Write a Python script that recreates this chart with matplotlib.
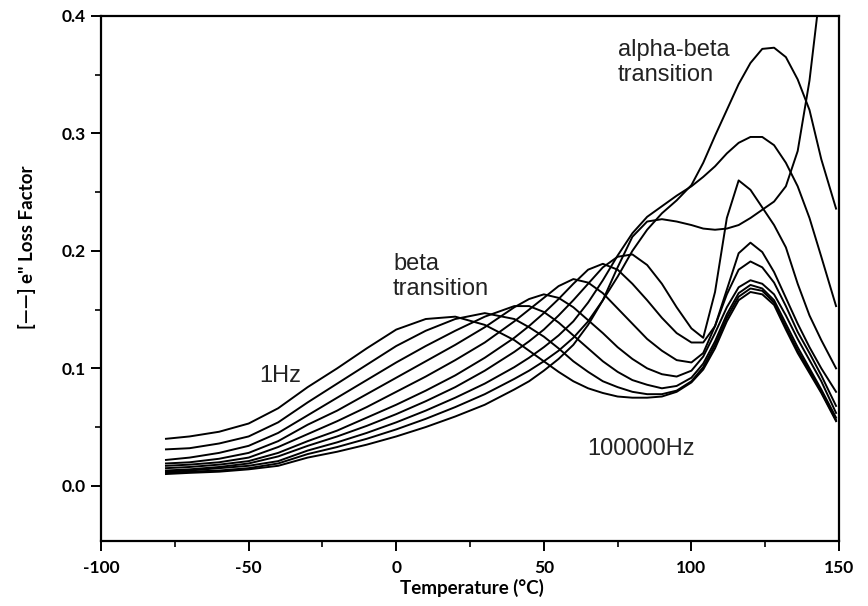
import matplotlib
matplotlib.use("Agg")
import matplotlib.pyplot as plt
from matplotlib.ticker import MultipleLocator, FormatStrFormatter

plt.rcParams["axes.unicode_minus"] = False

# temperature grid (deg C) shared by all curves
temps = [-78, -70, -60, -50, -40, -30, -20, -10, 0, 10, 20, 30, 40, 45, 50, 55, 60, 65, 70,
         75, 80, 85, 90, 95, 100, 104, 108, 112, 116, 120, 124, 128, 132, 136, 140, 144, 149]

# loss factor e", lowest frequency (1Hz) first
curve1 = [0.040, 0.042, 0.046, 0.053, 0.066, 0.084, 0.100, 0.117, 0.133, 0.142, 0.144, 0.137,
          0.124, 0.115, 0.106, 0.097, 0.089, 0.083, 0.079, 0.076, 0.075, 0.075, 0.076, 0.080,
          0.088, 0.099, 0.117, 0.140, 0.158, 0.165, 0.163, 0.154, 0.133, 0.113, 0.096, 0.079,
          0.055]
curve2 = [0.031, 0.032, 0.036, 0.042, 0.054, 0.071, 0.087, 0.103, 0.119, 0.132, 0.142, 0.147,
          0.142, 0.135, 0.127, 0.117, 0.106, 0.097, 0.089, 0.084, 0.080, 0.078, 0.078, 0.081,
          0.089, 0.101, 0.120, 0.143, 0.161, 0.168, 0.166, 0.156, 0.135, 0.115, 0.098, 0.080,
          0.056]
curve3 = [0.022, 0.024, 0.028, 0.034, 0.045, 0.060, 0.075, 0.090, 0.105, 0.119, 0.132, 0.144,
          0.153, 0.153, 0.148, 0.139, 0.128, 0.117, 0.106, 0.097, 0.090, 0.086, 0.083, 0.085,
          0.092, 0.104, 0.123, 0.146, 0.164, 0.171, 0.168, 0.158, 0.138, 0.118, 0.100, 0.082,
          0.058]
curve4 = [0.019, 0.020, 0.023, 0.028, 0.038, 0.052, 0.064, 0.078, 0.092, 0.106, 0.120, 0.135,
          0.152, 0.159, 0.163, 0.160, 0.152, 0.141, 0.130, 0.118, 0.108, 0.100, 0.095, 0.093,
          0.098, 0.110, 0.130, 0.152, 0.169, 0.175, 0.172, 0.163, 0.145, 0.125, 0.107, 0.089,
          0.062]
curve5 = [0.017, 0.018, 0.020, 0.024, 0.033, 0.044, 0.055, 0.067, 0.080, 0.093, 0.107, 0.122,
          0.140, 0.150, 0.160, 0.170, 0.176, 0.173, 0.164, 0.151, 0.138, 0.125, 0.115, 0.107,
          0.105, 0.113, 0.136, 0.163, 0.184, 0.191, 0.186, 0.173, 0.153, 0.131, 0.113, 0.094,
          0.068]
curve6 = [0.015, 0.016, 0.018, 0.021, 0.028, 0.038, 0.047, 0.058, 0.069, 0.081, 0.094, 0.109,
          0.126, 0.136, 0.147, 0.159, 0.172, 0.184, 0.189, 0.184, 0.172, 0.158, 0.143, 0.130,
          0.122, 0.122, 0.136, 0.167, 0.198, 0.207, 0.199, 0.182, 0.160, 0.138, 0.118, 0.100,
          0.080]
curve7 = [0.013, 0.014, 0.016, 0.019, 0.025, 0.034, 0.042, 0.051, 0.061, 0.072, 0.084, 0.098,
          0.114, 0.123, 0.133, 0.145, 0.158, 0.172, 0.186, 0.195, 0.197, 0.188, 0.172, 0.152,
          0.134, 0.126, 0.165, 0.228, 0.260, 0.252, 0.237, 0.222, 0.203, 0.172, 0.145, 0.124,
          0.100]
curve8 = [0.012, 0.013, 0.015, 0.017, 0.021, 0.030, 0.037, 0.045, 0.054, 0.064, 0.075, 0.087,
          0.101, 0.109, 0.118, 0.128, 0.140, 0.156, 0.175, 0.196, 0.215, 0.229, 0.238, 0.247,
          0.255, 0.263, 0.272, 0.283, 0.292, 0.297, 0.297, 0.290, 0.275, 0.255, 0.228, 0.195,
          0.153]
curve9 = [0.011, 0.012, 0.013, 0.015, 0.019, 0.027, 0.033, 0.040, 0.048, 0.057, 0.067, 0.078,
          0.091, 0.098, 0.106, 0.115, 0.126, 0.140, 0.158, 0.178, 0.200, 0.218, 0.232, 0.243,
          0.256, 0.275, 0.298, 0.320, 0.342, 0.360, 0.372, 0.373, 0.365, 0.346, 0.320, 0.278,
          0.236]
curve10 = [0.010, 0.011, 0.012, 0.014, 0.017, 0.024, 0.029, 0.035, 0.042, 0.050, 0.059, 0.069,
           0.082, 0.089, 0.098, 0.108, 0.120, 0.137, 0.158, 0.186, 0.212, 0.225, 0.227, 0.225,
           0.222, 0.219, 0.218, 0.219, 0.222, 0.228, 0.235, 0.242, 0.255, 0.285, 0.345, 0.430,
           0.550]

curves = [curve1, curve2, curve3, curve4, curve5, curve6, curve7, curve8, curve9, curve10]

fig = plt.figure(figsize=(8.68, 6.06), dpi=100)
ax = fig.add_axes([0.1164, 0.1073, 0.8502, 0.8663])

for c in curves:
    ax.plot(temps, c, color="black", lw=1.4, solid_joinstyle="round")

ax.set_xlim(-100, 150)
ax.set_ylim(-0.047, 0.4)

ax.xaxis.set_major_locator(MultipleLocator(50))
ax.xaxis.set_minor_locator(MultipleLocator(25))
ax.yaxis.set_major_locator(MultipleLocator(0.1))
ax.yaxis.set_minor_locator(MultipleLocator(0.05))
ax.yaxis.set_major_formatter(FormatStrFormatter("%.1f"))

ax.tick_params(which="major", direction="out", length=7, width=1.4, pad=4)
ax.tick_params(which="minor", direction="out", length=4, width=1.2)
ax.tick_params(axis="x", pad=7)
for lbl in ax.get_xticklabels() + ax.get_yticklabels():
    lbl.set_fontfamily("Lato")
    lbl.set_fontweight("bold")
    lbl.set_fontsize(12.5)

for s in ax.spines.values():
    s.set_linewidth(1.6)

labelfont = dict(family="Lato", weight="bold", size=13.5)
ax.set_xlabel("Temperature (\u00b0C)", fontdict=labelfont)
ax.set_ylabel('[\u2014\u2014] e" Loss Factor', fontdict=labelfont)
ax.xaxis.set_label_coords(0.503, -0.072)
ax.yaxis.set_label_coords(-0.088, 0.56)

ann = dict(family="Liberation Sans", size=17, color="#222222")
ax.text(75.1, 0.345, "alpha-beta\ntransition", va="baseline", ha="left",
        linespacing=1.15, **ann)
ax.text(-1.1, 0.1625, "beta\ntransition", va="baseline", ha="left",
        linespacing=1.15, **ann)
ax.text(-46.5, 0.088, "1Hz", va="baseline", ha="left", **ann)
ax.text(64.6, 0.026, "100000Hz", va="baseline", ha="left", **ann)

fig.savefig("out.png", dpi=100)
